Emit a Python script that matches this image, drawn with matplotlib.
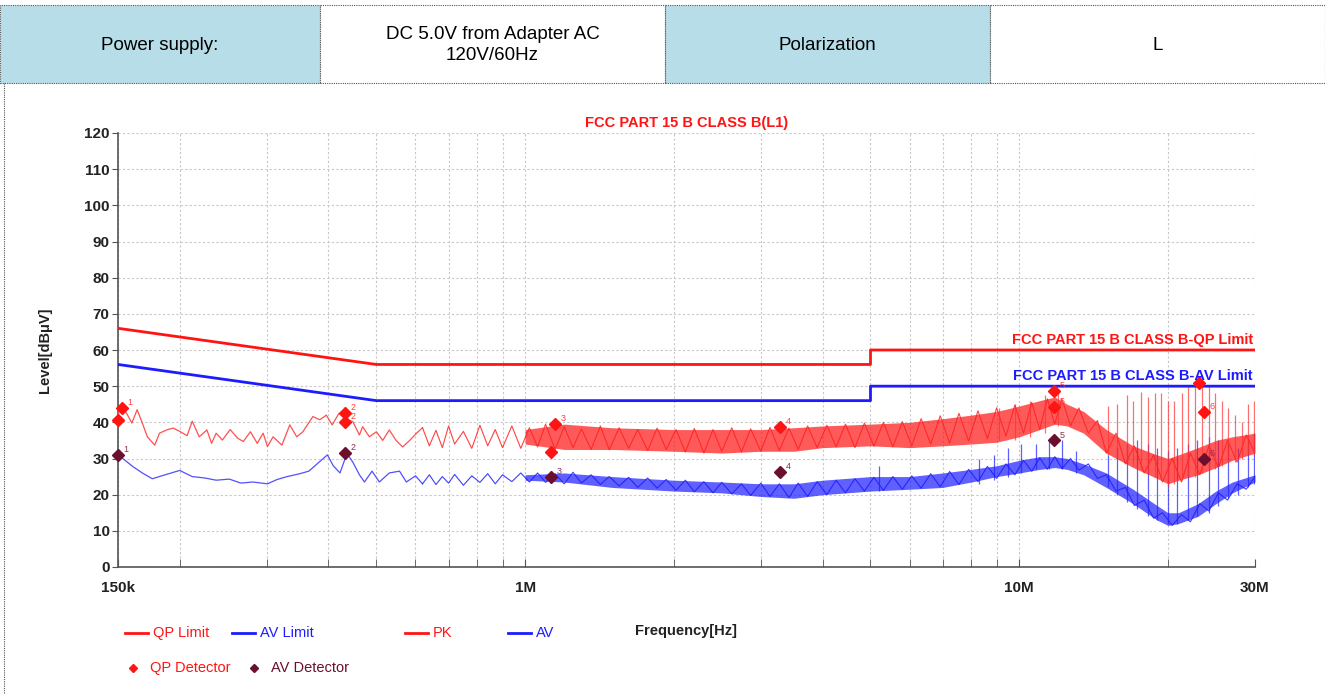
import numpy as np
import matplotlib.pyplot as plt
from matplotlib.lines import Line2D
from matplotlib.patches import Rectangle

plt.rcParams['font.family'] = ['Liberation Sans', 'DejaVu Sans']

W, H = 1325, 694

# limit lines (Hz, dBuV)
lim_freq = [150e3, 500e3, 5e6, 5e6, 30e6]
qp_limit = [66, 56, 56, 60, 60]
av_limit = [56, 46, 46, 50, 50]

# PK trace, low band (kHz)
pk_freq_khz = [150, 151, 156, 160, 164, 168, 172, 178, 182, 189, 194, 200, 207, 212, 219, 227,
               232, 237, 244, 253, 262, 269, 278, 287, 295, 301, 309, 322, 334, 345, 355, 372,
               384, 396, 407, 420, 436, 448, 462, 469, 484, 500, 515, 531, 548, 565, 584, 602, 620]
pk_level = [41.0, 44.5, 42.6, 39.8, 43.5, 39.8, 36.0, 33.7, 37.0, 38.0, 38.4, 37.5, 36.3, 40.3, 36.0, 37.9,
            34.2, 37.0, 35.1, 38.0, 35.6, 34.7, 37.4, 34.2, 37.0, 33.3, 36.0, 33.7, 39.3, 36.0, 37.4, 41.6,
            40.7, 42.0, 39.3, 42.5, 40.7, 40.2, 36.5, 38.8, 36.0, 37.4, 35.0, 37.9, 35.0, 33.2, 35.0, 36.9,
            38.5]

# AV trace, low band (kHz)
av_freq_khz = [150, 155, 161, 168, 176, 188, 200, 212, 225, 237, 252, 266, 281, 301, 315, 330,
               350, 365, 380, 398, 409, 422, 436, 448, 462, 473, 490, 507, 531, 557, 575, 600, 620]
av_level = [31.0, 29.5, 27.7, 26.0, 24.4, 25.6, 26.7, 25.0, 24.6, 24.0, 24.3, 23.2, 23.5, 23.0, 24.2, 25.0,
            25.8, 26.5, 28.6, 31.0, 28.0, 26.0, 31.4, 29.0, 25.5, 23.5, 26.5, 23.5, 26.0, 26.5, 23.5, 25.2,
            23.0]

# dense part of the sweep (MHz)
dense_mhz = [0.62, 0.64, 0.66, 0.68, 0.70, 0.72, 0.75, 0.78, 0.81, 0.84, 0.87, 0.9, 0.94, 0.98, 1.02,
             1.06, 1.1, 1.15, 1.2, 1.25, 1.3, 1.36, 1.42, 1.48, 1.55, 1.62, 1.69, 1.77, 1.85, 1.93,
             2.02, 2.11, 2.2, 2.3, 2.4, 2.5, 2.62, 2.74, 2.86, 3.0, 3.13, 3.27, 3.42,
             3.57, 3.73, 3.9, 4.08, 4.26, 4.45, 4.65, 4.86, 5.08, 5.31, 5.55, 5.8,
             6.06, 6.33, 6.62, 6.92, 7.23, 7.55, 7.9, 8.25, 8.62, 9.0, 9.4, 9.8,
             10.2, 10.6, 11.0, 11.4, 11.8, 12.2, 12.7, 13.2, 13.8, 14.4,
             15.0, 15.7, 16.4, 17.1, 17.9, 18.7, 19.5, 20.4, 21.3, 22.2,
             23.2, 24.2, 25.3, 26.4, 27.6, 28.8, 30.0]
pk_dense = [38.5, 33.5, 37.8, 33, 39, 34, 37.5, 32.8, 39.2, 33.5, 38, 33, 39, 32.8, 38.5,
            33.2, 39.5, 32.5, 38.8, 33, 38.2, 32.5, 39, 32.4, 38.5, 32.8, 38, 32.2, 38.4, 32.5,
            38, 31.8, 38.3, 31.5, 38, 32, 38.5, 31.8, 38.2, 32, 38.6, 32.2, 38.4,
            32.5, 39, 33, 39.2, 33.2, 39.5, 33, 39.8, 33.4, 40, 33.2, 40.2,
            33.5, 41, 34, 41.8, 34.2, 42.5, 34.8, 43.2, 35.5, 44, 36.2, 44.8,
            37, 45.5, 38, 46.5, 39.5, 46.5, 39, 44, 37, 40.5,
            31.5, 37, 28.5, 33.5, 26, 31, 23.5, 30, 23.5, 31.5,
            25.5, 33.5, 27.5, 35, 29, 36.5, 31.5]
av_dense = [23, 25.5, 22.8, 25, 23.2, 25.6, 22.6, 25.2, 23.4, 25.8, 23, 25.5, 23.6, 26, 23.5,
            26, 23.4, 25.8, 23, 26.2, 23.2, 25.5, 22.8, 25, 22.4, 24.8, 22, 24.6, 21.8, 24.2,
            21.2, 24, 20.8, 23.6, 20.5, 23.4, 20.2, 23, 19.8, 23.2, 19.5, 23, 19.2,
            23.2, 19.5, 23.6, 20, 24, 20.5, 24.4, 21, 24.8, 21.2, 25, 21.5,
            25.2, 21.8, 25.8, 22.2, 26.4, 22.8, 27, 23.6, 27.8, 24.5, 28.5, 25.5,
            29.5, 26.5, 30.2, 27, 30.5, 27.2, 30, 26.8, 28.5, 24.5,
            25.5, 21, 22, 17, 18.5, 13.5, 15, 11.5, 14.5, 12.5,
            17.5, 15.5, 20.5, 18.5, 23, 21.5, 25]

# dense band envelopes (MHz)
band_mhz = [1.0, 1.2, 1.5, 2, 2.5, 3, 3.5, 4, 5, 6, 7, 8, 9, 10, 11, 11.8, 12.5,
            13.5, 15, 17, 19, 20, 21, 23, 25, 27, 30]
pk_hi = [38, 39.5, 38.5, 38, 38, 38, 38.5, 39, 39.5, 40, 41, 42, 43, 44.5, 46, 47, 45,
         43, 38, 33.5, 31, 30, 31, 33, 35, 36, 37]
pk_lo = [34, 32.5, 32.5, 32, 31.5, 32, 32, 33, 33.5, 33, 33.5, 34, 34.5, 36, 38, 39.5, 39,
         37, 31.5, 27.5, 24.5, 23, 24, 25.5, 27.5, 29.5, 31.5]
av_hi = [25.5, 26, 25, 24, 23.5, 23, 23, 24, 25, 25, 26, 27, 28, 29.5, 30.5, 30.5, 30,
         28.5, 26, 21.5, 17, 15, 15, 17.5, 21, 23.5, 25.5]
av_lo = [24, 23.5, 22, 21, 20.5, 19.5, 19, 20, 21, 21.5, 22, 23.5, 25, 26, 27, 27.5, 27,
         25.5, 22, 17.5, 13, 11.5, 12, 14, 17.5, 20.5, 23.5]

# spikes (MHz, top, bottom)
pk_spike_mhz = [9.1, 9.8, 10.5, 11.3, 12.0, 15.1, 15.8, 16.5, 17.0, 17.6, 18.2, 18.8, 19.4, 20.0,
                20.6, 21.3, 22.0, 22.7, 23.4, 24.2, 24.9, 25.7, 26.5, 27.3, 28.2, 29.0, 29.8]
pk_spike_top = [44, 45, 46, 47.5, 48, 44.5, 45, 47.5, 46, 48.5, 47, 48, 48, 46,
                46, 48, 50, 51, 51, 50, 48, 46, 44, 42, 40, 45, 46]
pk_spike_bot = [35, 35, 36, 37, 39, 31, 30, 29, 28, 27, 26, 25, 24, 22,
                23, 24, 25, 25, 26, 27, 27, 28, 29, 29, 30, 31, 31]
av_spike_mhz = [5.2, 8.3, 8.9, 9.5, 10.1, 10.8, 11.5, 12.2, 13.0, 15.1, 15.8, 16.5, 17.3, 18.2,
                19.0, 20.0, 20.9, 22.0, 22.9, 24.2, 25.3, 26.5, 27.7, 29.0, 29.8]
av_spike_top = [28, 30, 31, 33, 34, 34, 35, 35, 32, 31, 33, 34, 35, 34,
                33, 32, 33, 34, 35, 36, 35, 34, 33, 35, 37]
av_spike_bot = [21, 23, 24, 25, 26, 27, 27, 27, 26, 22, 20, 18, 16, 14,
                13, 12, 12, 13, 14, 15, 17, 19, 20, 22, 23]

# detector readings
qp_det_freq = [150e3, 152.8e3, 432e3, 432e3, 1.15e6, 1.128e6, 3.28e6, 11.77e6, 11.77e6, 23.1e6, 23.6e6]
qp_det_level = [40.6, 43.9, 42.6, 40.1, 39.5, 31.8, 38.7, 48.6, 44.2, 50.8, 42.8]
qp_det_num = ['', '1', '2', '2', '3', '', '4', '5', '5', '', '6']
av_det_freq = [150e3, 432e3, 1.128e6, 3.28e6, 11.77e6, 23.6e6]
av_det_level = [30.9, 31.5, 24.9, 26.2, 35.0, 29.8]
av_det_num = ['1', '2', '3', '4', '5', '6']

RED = '#ff1414'
BLUE = '#1c1cff'
MAROON = '#6a0f2e'


def fx(px):
    return px / W


def fy(py):
    return 1 - py / H


fig = plt.figure(figsize=(W / 100, H / 100), dpi=100)

# header table
cells = [(0, 320, '#b7dde8', 'Power supply:'),
         (320, 665, 'white', 'DC 5.0V from Adapter AC\n120V/60Hz'),
         (665, 990, '#b7dde8', 'Polarization'),
         (990, 1325, 'white', 'L')]
for x0, x1, col, txt in cells:
    fig.patches.append(Rectangle((fx(x0), fy(83)), fx(x1 - x0), (83 - 5) / H,
                                 transform=fig.transFigure, facecolor=col,
                                 edgecolor='#555555', lw=0.8, ls=(0, (1, 1))))
    fig.text(fx((x0 + x1) / 2), fy(45), txt, ha='center', va='center',
             fontsize=13.5, color='black', linespacing=1.25)
fig.lines.append(Line2D([fx(4), fx(4)], [fy(83), 0], transform=fig.transFigure,
                        color='#555555', lw=0.8, ls=(0, (1, 1))))

ax = fig.add_axes([fx(118), fy(567), fx(1255 - 118), (567 - 133) / H])
ax.set_xscale('log')
ax.set_xlim(150e3, 30e6)
ax.set_ylim(0, 120)

ax.plot(lim_freq, qp_limit, color=RED, lw=2, zorder=5)
ax.plot(lim_freq, av_limit, color=BLUE, lw=2, zorder=5)

bf = np.array(band_mhz) * 1e6
df = np.array(dense_mhz) * 1e6

# AV trace
ax.plot(np.array(av_freq_khz) * 1e3, av_level, color='#5050ff', lw=0.9, zorder=3)
ax.fill_between(bf, av_lo, av_hi, color=BLUE, alpha=0.7, lw=0, zorder=3)
ax.plot(df, av_dense, color=BLUE, lw=0.8, alpha=0.85, zorder=3)
ax.vlines(np.array(av_spike_mhz) * 1e6, av_spike_bot, av_spike_top, color=BLUE, lw=0.9,
          alpha=0.7, zorder=3)

# PK trace
ax.plot(np.array(pk_freq_khz) * 1e3, pk_level, color='#ff5050', lw=0.9, zorder=4)
ax.fill_between(bf, pk_lo, pk_hi, color=RED, alpha=0.7, lw=0, zorder=4)
ax.plot(df, pk_dense, color='#ff2020', lw=0.8, alpha=0.85, zorder=4)
ax.vlines(np.array(pk_spike_mhz) * 1e6, pk_spike_bot, pk_spike_top, color='#ff3030', lw=0.9,
          alpha=0.7, zorder=4)

# detector markers
ax.plot(qp_det_freq, qp_det_level, 'D', color=RED, ms=6, zorder=7, clip_on=False)
ax.plot(av_det_freq, av_det_level, 'D', color=MAROON, ms=6, zorder=7, clip_on=False)
for f, v, n in zip(qp_det_freq, qp_det_level, qp_det_num):
    if n:
        ax.annotate(n, (f, v), xytext=(4, 2), textcoords='offset points', fontsize=6.5,
                    color='#ff4040', zorder=8)
for f, v, n in zip(av_det_freq, av_det_level, av_det_num):
    ax.annotate(n, (f, v), xytext=(4, 2), textcoords='offset points', fontsize=6.5,
                color='#8a3050', zorder=8)

# limit names
ax.text(29.7e6, 60.8, 'FCC PART 15 B CLASS B-QP Limit', ha='right', va='bottom',
        color=RED, fontsize=10.5, fontweight='bold', zorder=9)
ax.text(29.7e6, 50.8, 'FCC PART 15 B CLASS B-AV Limit', ha='right', va='bottom',
        color=BLUE, fontsize=10.5, fontweight='bold', zorder=9)

ax.set_title('FCC PART 15 B CLASS B(L1)', color=RED, fontsize=10.5, fontweight='bold', pad=4)

# axes styling
ax.set_yticks(range(0, 121, 10))
ax.set_xticks([150e3, 1e6, 10e6, 30e6])
ax.set_xticklabels(['150k', '1M', '10M', '30M'])
minor = [2e5, 3e5, 4e5, 5e5, 6e5, 7e5, 8e5, 9e5,
         2e6, 3e6, 4e6, 5e6, 6e6, 7e6, 8e6, 9e6, 2e7]
ax.set_xticks(minor, minor=True)
ax.xaxis.set_minor_formatter(plt.NullFormatter())
ax.grid(True, which='both', color='#c8c8c8', lw=0.8, ls=(0, (2, 2)))
ax.set_axisbelow(True)
for s in ['top', 'right']:
    ax.spines[s].set_visible(False)
for s in ['left', 'bottom']:
    ax.spines[s].set_color('#555555')
    ax.spines[s].set_linewidth(1.2)
ax.tick_params(axis='x', which='both', direction='in', length=6, color='#555555',
               labelsize=11, pad=10)
ax.tick_params(axis='y', direction='out', length=4, color='#555555', labelsize=11, pad=2)
for lab in ax.get_xticklabels() + ax.get_yticklabels():
    lab.set_fontweight('bold')
    lab.set_color('#222222')

fig.text(fx(45), fy(350), 'Level[dBμV]', rotation=90, ha='center', va='center',
         fontsize=10.5, fontweight='bold', color='#222222')
fig.text(fx(686), fy(631), 'Frequency[Hz]', ha='center', va='center',
         fontsize=10.5, fontweight='bold', color='#222222')

# legend
legend_lines = [(125, 'QP Limit', RED), (232, 'AV Limit', BLUE), (405, 'PK', RED), (508, 'AV', BLUE)]
for x0, txt, col in legend_lines:
    fig.lines.append(Line2D([fx(x0), fx(x0 + 23)], [fy(633), fy(633)], transform=fig.transFigure,
                            color=col, lw=2))
    fig.text(fx(x0 + 28), fy(633), txt, ha='left', va='center', fontsize=10.5, color=col)
legend_marks = [(133, 'QP Detector', RED), (254, 'AV Detector', MAROON)]
for x0, txt, col in legend_marks:
    fig.lines.append(Line2D([fx(x0)], [fy(668)], transform=fig.transFigure, marker='D',
                            color=col, ms=4, ls='none'))
    fig.text(fx(x0 + 17), fy(668), txt, ha='left', va='center', fontsize=10.5, color=col)

fig.savefig('out.png', dpi=100)
